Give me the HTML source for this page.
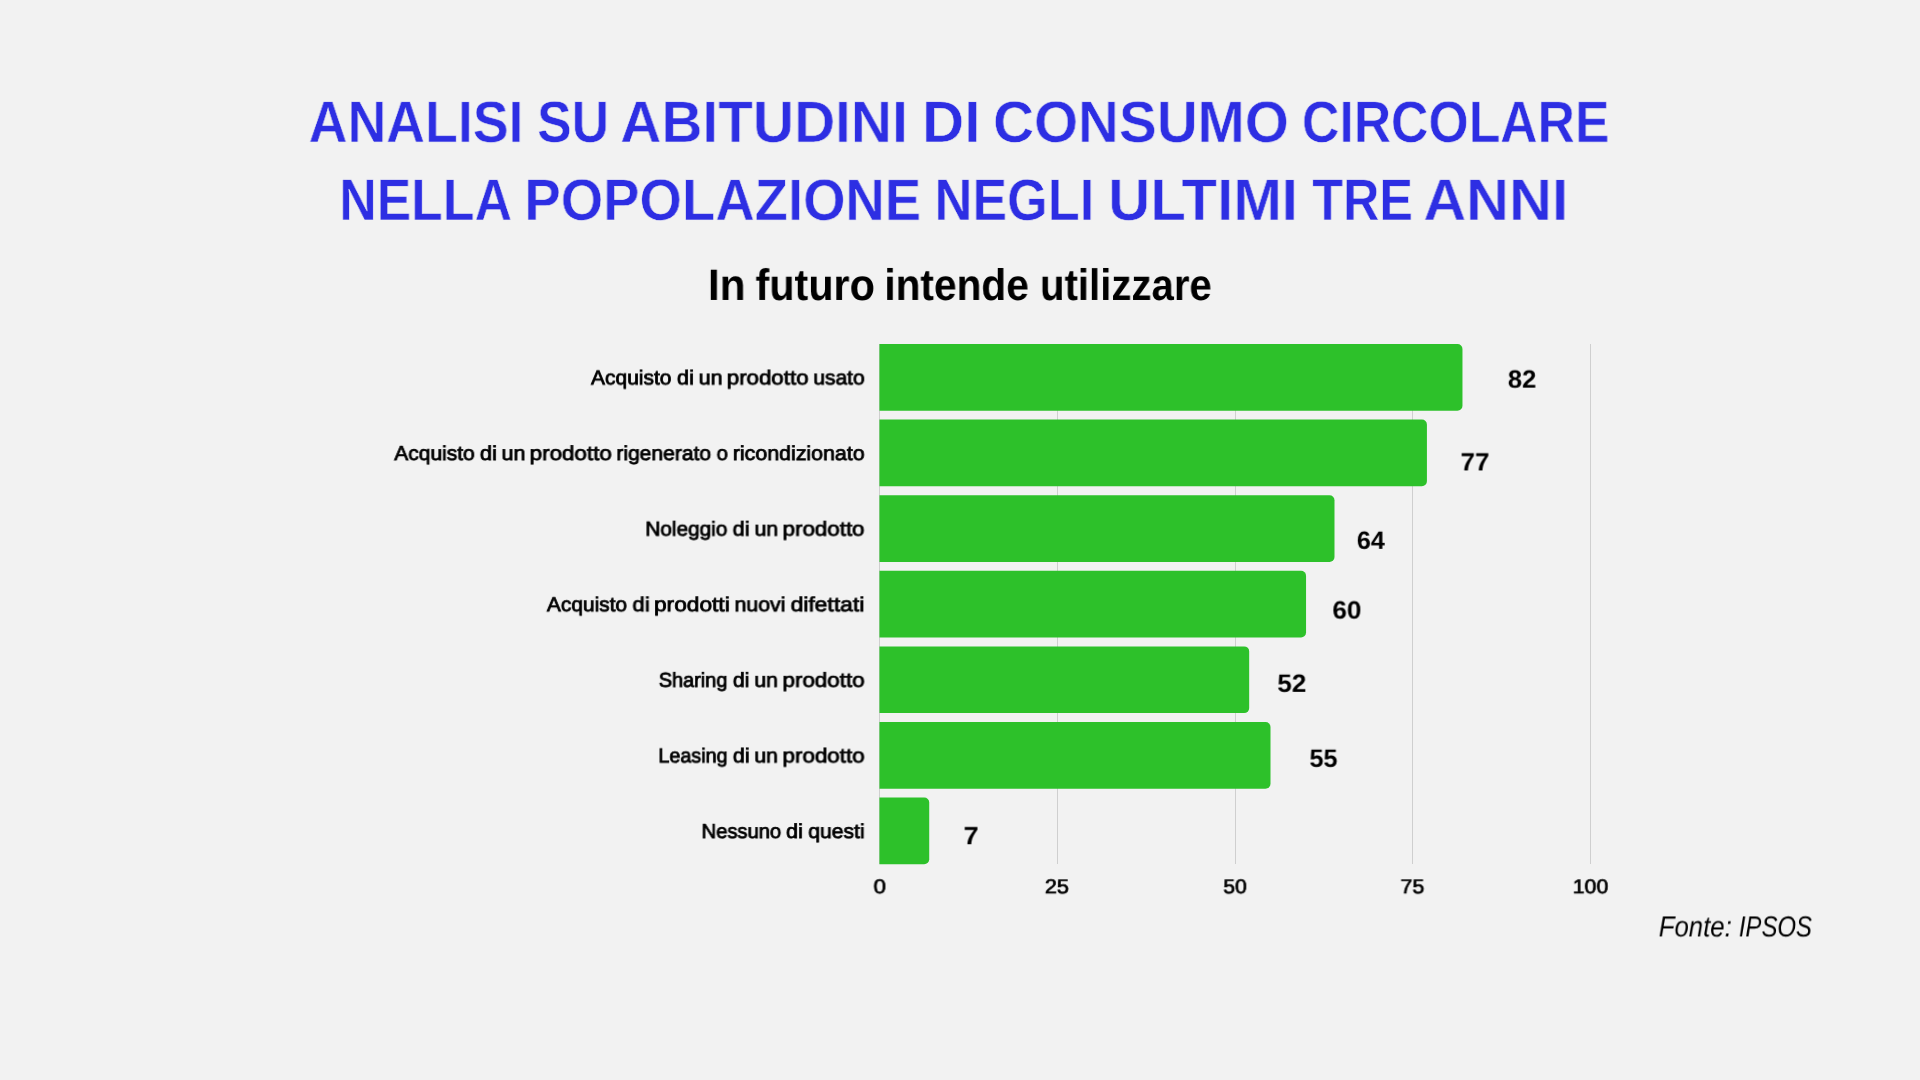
<!DOCTYPE html>
<html lang="it">
<head>
<meta charset="utf-8">
<title>Analisi su abitudini di consumo circolare</title>
<style>
  html, body { margin: 0; padding: 0; }
  body {
    width: 1920px; height: 1080px; overflow: hidden;
    background: #f2f2f2;
    font-family: "Liberation Sans", sans-serif;
    color: #000;
    position: relative;
  }
  h1, h2 { margin: 0; padding: 0; font-size: inherit; font-weight: inherit; }
  .t { position: absolute; white-space: nowrap; line-height: 1; margin: 0; padding: 0; transform-origin: 0 0; display: block; will-change: transform; text-rendering: geometricPrecision; }
  .tw  { color: #2d2ee3; font-weight: bold; font-size: 58.4px; -webkit-text-stroke: 0.55px #f2f2f2; }
  .sw  { font-weight: bold; font-size: 44px; }
  .cat { font-size: 20.3px; font-weight: normal; -webkit-text-stroke: 0.8px #000; }
  .val { font-size: 25px; font-weight: bold; }
  .tick{ font-size: 20px; font-weight: normal; -webkit-text-stroke: 0.7px #000; }
  .src { font-size: 29px; font-style: italic; }
  .chart { position: absolute; left: 0; top: 0; }
</style>
</head>
<body>

<!-- headings -->
<h1>
<span class="t tw" style="left:308px;top:94px;transform:translate(0.68px,0.01px) rotate(0.02deg) scaleX(0.9198)">ANALISI</span>
<span class="t tw" style="left:537px;top:94px;transform:translate(0.19px,0.01px) rotate(0.02deg) scaleX(0.8855)">SU</span>
<span class="t tw" style="left:620px;top:94px;transform:translate(0.29px,0.01px) rotate(0.02deg) scaleX(0.9741)">ABITUDINI</span>
<span class="t tw" style="left:922px;top:94px;transform:translate(0.13px,0.01px) rotate(0.02deg) scaleX(0.9985)">DI</span>
<span class="t tw" style="left:993px;top:94px;transform:translate(0.06px,0.01px) rotate(0.02deg) scaleX(0.9704)">CONSUMO</span>
<span class="t tw" style="left:1301px;top:94px;transform:translate(0.98px,0.01px) rotate(0.02deg) scaleX(0.8859)">CIRCOLARE</span>
<span class="t tw" style="left:339px;top:171px;transform:translate(0.27px,0.96px) rotate(0.02deg) scaleX(0.8876)">NELLA</span>
<span class="t tw" style="left:524px;top:171px;transform:translate(0.40px,0.96px) rotate(0.02deg) scaleX(0.9339)">POPOLAZIONE</span>
<span class="t tw" style="left:934px;top:171px;transform:translate(0.58px,0.96px) rotate(0.02deg) scaleX(0.8950)">NEGLI</span>
<span class="t tw" style="left:1108px;top:171px;transform:translate(0.22px,0.96px) rotate(0.02deg) scaleX(0.9968)">ULTIMI</span>
<span class="t tw" style="left:1312px;top:171px;transform:translate(0.31px,0.96px) rotate(0.02deg) scaleX(0.8621)">TRE</span>
<span class="t tw" style="left:1423px;top:171px;transform:translate(0.44px,0.96px) rotate(0.02deg) scaleX(1.0158)">ANNI</span>
</h1>
<h2>
<span class="t sw" style="left:707px;top:263px;transform:translate(0.96px,0.95px) rotate(0.02deg) scaleX(0.9628)">In</span>
<span class="t sw" style="left:755px;top:263px;transform:translate(0.51px,0.95px) rotate(0.02deg) scaleX(0.9395)">futuro</span>
<span class="t sw" style="left:884px;top:263px;transform:translate(0.38px,0.95px) rotate(0.02deg) scaleX(0.9238)">intende</span>
<span class="t sw" style="left:1039px;top:263px;transform:translate(1.00px,0.95px) rotate(0.02deg) scaleX(0.9125)">utilizzare</span>
</h2>

<!-- chart: gridlines + bars -->
<svg class="chart" width="1920" height="1080" viewBox="0 0 1920 1080">
<g fill="#cfcfcf">
<rect x="879" y="344" width="1" height="520"/>
<rect x="1057" y="344" width="1" height="520"/>
<rect x="1235" y="344" width="1" height="520"/>
<rect x="1412" y="344" width="1" height="520"/>
<rect x="1590" y="344" width="1" height="520"/>
</g>
<g fill="#2dc12a">
<path d="M879.45 344.00H1457.47A5 5 0 0 1 1462.47 349.00V405.70A5 5 0 0 1 1457.47 410.70H879.45Z"/>
<path d="M879.45 419.60H1421.92A5 5 0 0 1 1426.92 424.60V481.30A5 5 0 0 1 1421.92 486.30H879.45Z"/>
<path d="M879.45 495.20H1329.49A5 5 0 0 1 1334.49 500.20V556.90A5 5 0 0 1 1329.49 561.90H879.45Z"/>
<path d="M879.45 570.80H1301.05A5 5 0 0 1 1306.05 575.80V632.50A5 5 0 0 1 1301.05 637.50H879.45Z"/>
<path d="M879.45 646.40H1244.17A5 5 0 0 1 1249.17 651.40V708.10A5 5 0 0 1 1244.17 713.10H879.45Z"/>
<path d="M879.45 722.00H1265.50A5 5 0 0 1 1270.50 727.00V783.70A5 5 0 0 1 1265.50 788.70H879.45Z"/>
<path d="M879.45 797.60H924.22A5 5 0 0 1 929.22 802.60V859.30A5 5 0 0 1 924.22 864.30H879.45Z"/>
</g>
</svg>

<!-- category labels -->
<div class="lab"><span class="t cat" style="left:591px;top:368px;transform:translate(0.04px,0.42px) rotate(0.02deg) scaleX(1.0334)">Acquisto</span> <span class="t cat" style="left:677px;top:368px;transform:translate(0.03px,0.42px) rotate(0.02deg) scaleX(1.0716)">di</span> <span class="t cat" style="left:698px;top:368px;transform:translate(0.66px,0.42px) rotate(0.02deg) scaleX(1.0582)">un</span> <span class="t cat" style="left:726px;top:368px;transform:translate(0.74px,0.42px) rotate(0.02deg) scaleX(1.0993)">prodotto</span> <span class="t cat" style="left:813px;top:368px;transform:translate(0.31px,0.42px) rotate(0.02deg) scaleX(1.0337)">usato</span></div>
<div class="lab"><span class="t cat" style="left:394px;top:444px;transform:translate(0.34px,0.02px) rotate(0.02deg) scaleX(1.0333)">Acquisto</span> <span class="t cat" style="left:479px;top:444px;transform:translate(0.97px,0.02px) rotate(0.02deg) scaleX(1.0846)">di</span> <span class="t cat" style="left:501px;top:444px;transform:translate(0.51px,0.02px) rotate(0.02deg) scaleX(1.0595)">un</span> <span class="t cat" style="left:529px;top:444px;transform:translate(0.65px,0.02px) rotate(0.02deg) scaleX(1.1027)">prodotto</span> <span class="t cat" style="left:616px;top:444px;transform:translate(0.38px,0.02px) rotate(0.02deg) scaleX(1.0367)">rigenerato</span> <span class="t cat" style="left:716px;top:444px;transform:translate(0.66px,0.02px) rotate(0.02deg) scaleX(1.0001)">o</span> <span class="t cat" style="left:732px;top:444px;transform:translate(0.84px,0.02px) rotate(0.02deg) scaleX(1.0528)">ricondizionato</span></div>
<div class="lab"><span class="t cat" style="left:645px;top:519px;transform:translate(0.37px,0.62px) rotate(0.02deg) scaleX(1.0240)">Noleggio</span> <span class="t cat" style="left:732px;top:519px;transform:translate(0.73px,0.62px) rotate(0.02deg) scaleX(1.0697)">di</span> <span class="t cat" style="left:754px;top:519px;transform:translate(0.51px,0.62px) rotate(0.02deg) scaleX(1.0502)">un</span> <span class="t cat" style="left:782px;top:519px;transform:translate(0.54px,0.62px) rotate(0.02deg) scaleX(1.1024)">prodotto</span></div>
<div class="lab"><span class="t cat" style="left:546px;top:595px;transform:translate(0.92px,0.22px) rotate(0.02deg) scaleX(1.0308)">Acquisto</span> <span class="t cat" style="left:632px;top:595px;transform:translate(0.53px,0.22px) rotate(0.02deg) scaleX(1.0899)">di</span> <span class="t cat" style="left:654px;top:595px;transform:translate(0.04px,0.22px) rotate(0.02deg) scaleX(1.1188)">prodotti</span> <span class="t cat" style="left:734px;top:595px;transform:translate(0.53px,0.22px) rotate(0.02deg) scaleX(1.0507)">nuovi</span> <span class="t cat" style="left:790px;top:595px;transform:translate(0.51px,0.22px) rotate(0.02deg) scaleX(1.1304)">difettati</span></div>
<div class="lab"><span class="t cat" style="left:658px;top:670px;transform:translate(0.84px,0.82px) rotate(0.02deg) scaleX(0.9798)">Sharing</span> <span class="t cat" style="left:732px;top:670px;transform:translate(0.95px,0.82px) rotate(0.02deg) scaleX(1.0445)">di</span> <span class="t cat" style="left:754px;top:670px;transform:translate(0.32px,0.82px) rotate(0.02deg) scaleX(1.0478)">un</span> <span class="t cat" style="left:782px;top:670px;transform:translate(0.48px,0.82px) rotate(0.02deg) scaleX(1.1035)">prodotto</span></div>
<div class="lab"><span class="t cat" style="left:658px;top:746px;transform:translate(0.46px,0.42px) rotate(0.02deg) scaleX(0.9728)">Leasing</span> <span class="t cat" style="left:732px;top:746px;transform:translate(0.93px,0.42px) rotate(0.02deg) scaleX(1.0550)">di</span> <span class="t cat" style="left:754px;top:746px;transform:translate(0.30px,0.42px) rotate(0.02deg) scaleX(1.0500)">un</span> <span class="t cat" style="left:782px;top:746px;transform:translate(0.47px,0.42px) rotate(0.02deg) scaleX(1.1051)">prodotto</span></div>
<div class="lab"><span class="t cat" style="left:701px;top:822px;transform:translate(0.59px,0.02px) rotate(0.02deg) scaleX(0.9944)">Nessuno</span> <span class="t cat" style="left:786px;top:822px;transform:translate(0.16px,0.02px) rotate(0.02deg) scaleX(1.0510)">di</span> <span class="t cat" style="left:808px;top:822px;transform:translate(0.30px,0.02px) rotate(0.02deg) scaleX(1.0406)">questi</span></div>

<!-- value labels -->
<span class="t val" style="left:1507px;top:367px;transform:translate(0.81px,0.64px) rotate(0.02deg) scaleX(1.0268)">82</span>
<span class="t val" style="left:1460px;top:450px;transform:translate(0.57px,0.44px) rotate(0.02deg) scaleX(1.0345)">77</span>
<span class="t val" style="left:1356px;top:528px;transform:translate(0.82px,0.84px) rotate(0.02deg) scaleX(1.0070)">64</span>
<span class="t val" style="left:1332px;top:598px;transform:translate(0.40px,0.54px) rotate(0.02deg) scaleX(1.0458)">60</span>
<span class="t val" style="left:1277px;top:671px;transform:translate(0.35px,0.84px) rotate(0.02deg) scaleX(1.0440)">52</span>
<span class="t val" style="left:1309px;top:746px;transform:translate(0.48px,0.84px) rotate(0.02deg) scaleX(1.0110)">55</span>
<span class="t val" style="left:963px;top:824px;transform:translate(0.55px,0.24px) rotate(0.02deg) scaleX(1.0862)">7</span>

<!-- x axis ticks -->
<span class="t tick" style="left:873px;top:877px;transform:translate(0.62px,0.27px) rotate(0.02deg) scaleX(1.1242)">0</span>
<span class="t tick" style="left:1044px;top:877px;transform:translate(0.88px,0.27px) rotate(0.02deg) scaleX(1.0827)">25</span>
<span class="t tick" style="left:1223px;top:877px;transform:translate(0.41px,0.27px) rotate(0.02deg) scaleX(1.0513)">50</span>
<span class="t tick" style="left:1400px;top:877px;transform:translate(0.48px,0.27px) rotate(0.02deg) scaleX(1.0679)">75</span>
<span class="t tick" style="left:1572px;top:877px;transform:translate(0.76px,0.27px) rotate(0.02deg) scaleX(1.0653)">100</span>

<!-- source -->
<span class="t src" style="left:1658px;top:913px;transform:translate(0.77px,0.45px) rotate(0.02deg) scaleX(0.8876)">Fonte:</span>
<span class="t src" style="left:1738px;top:913px;transform:translate(0.88px,0.45px) rotate(0.02deg) scaleX(0.8240)">IPSOS</span>

</body>
</html>
